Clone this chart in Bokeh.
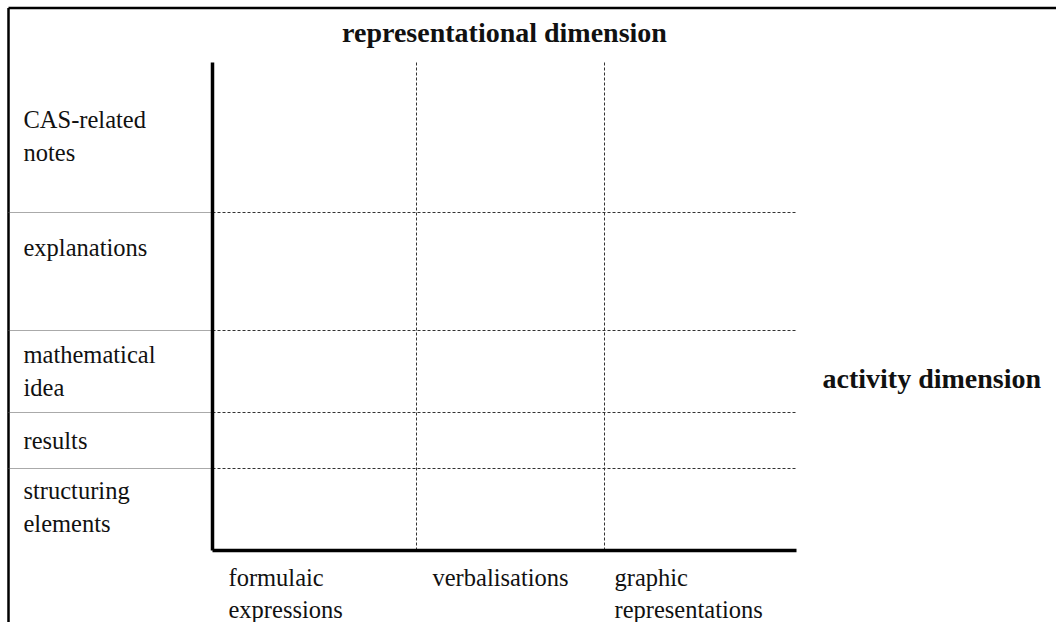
from bokeh.plotting import figure
from bokeh.models import Range1d, ColumnDataSource
from bokeh.core.properties import value
from bokeh.embed import file_html
from bokeh.resources import INLINE

# ---- content ----
title_top = "representational dimension"
title_right = "activity dimension"
row_labels = [["CAS-related", "notes"], ["explanations"], ["mathematical", "idea"],
              ["results"], ["structuring", "elements"]]
col_labels = [["formulaic", "expressions"], ["verbalisations"], ["graphic", "representations"]]

# ---- layout (pixel coordinates of the picture) ----
row_edges = [62, 212, 330, 412, 468, 550]
col_edges = [212, 416, 604, 796]
row_label_base = [119, 247, 354, 440, 490]
col_label_x = [228, 432, 614]
col_label_base = 577
line_step = 33
frame_left = 8
frame_top = 7.5
label_x = 23

FONT = value("Liberation Serif")

p = figure(width=1056, height=622, x_range=Range1d(0, 1056), y_range=Range1d(622, 0),
           output_backend="svg", toolbar_location=None, min_border=0,
           x_axis_location=None, y_axis_location=None, outline_line_color=None)
p.grid.visible = False

# frame (top and left)
p.segment(x0=[frame_left, frame_left], y0=[frame_top, frame_top], x1=[1056, frame_left], y1=[frame_top, 622],
          line_color="black", line_width=2.5)

# inner row separators: dotted in label column, dashed in grid
inner_rows = row_edges[1:-1]
p.segment(x0=[frame_left] * len(inner_rows), y0=inner_rows, x1=[col_edges[0]] * len(inner_rows), y1=inner_rows,
          line_color="#555555", line_width=1, line_dash="1 1")
p.segment(x0=[col_edges[0]] * len(inner_rows), y0=inner_rows, x1=[col_edges[-1]] * len(inner_rows), y1=inner_rows,
          line_color="#333333", line_width=1, line_dash="3 2")

# inner column separators: dashed
inner_cols = col_edges[1:-1]
p.segment(x0=inner_cols, y0=[row_edges[0]] * len(inner_cols), x1=inner_cols, y1=[row_edges[-1]] * len(inner_cols),
          line_color="#333333", line_width=1, line_dash="3 2")

# thick axes
p.segment(x0=[col_edges[0], col_edges[0]], y0=[row_edges[0], row_edges[-1]],
          x1=[col_edges[0], col_edges[-1]], y1=[row_edges[-1], row_edges[-1]],
          line_color="black", line_width=3.5)

# row labels
rx, ry, rt = [], [], []
for lines, base in zip(row_labels, row_label_base):
    for i, t in enumerate(lines):
        rx.append(label_x)
        ry.append(base + i * line_step)
        rt.append(t)
p.text(x="x", y="y", text="text", source=ColumnDataSource(dict(x=rx, y=ry, text=rt)),
       text_font=FONT, text_font_size="24.5px", text_color="#111111",
       text_align="left", text_baseline="alphabetic")

# column labels
cx, cy, ct = [], [], []
for lines, x in zip(col_labels, col_label_x):
    for i, t in enumerate(lines):
        cx.append(x)
        cy.append(col_label_base + i * (line_step - 1))
        ct.append(t)
p.text(x="x", y="y", text="text", source=ColumnDataSource(dict(x=cx, y=cy, text=ct)),
       text_font=FONT, text_font_size="24.5px", text_color="#111111",
       text_align="left", text_baseline="alphabetic")

# dimension titles
p.text(x=[(col_edges[0] + col_edges[-1]) / 2], y=[32], text=[title_top],
       text_font=FONT, text_font_size="28px", text_font_style="bold", text_color="#111111",
       text_align="center", text_baseline="alphabetic")
p.text(x=[822], y=[378], text=[title_right],
       text_font=FONT, text_font_size="28px", text_font_style="bold", text_color="#111111",
       text_align="left", text_baseline="alphabetic")

open("out.html", "w").write(file_html(p, INLINE))
